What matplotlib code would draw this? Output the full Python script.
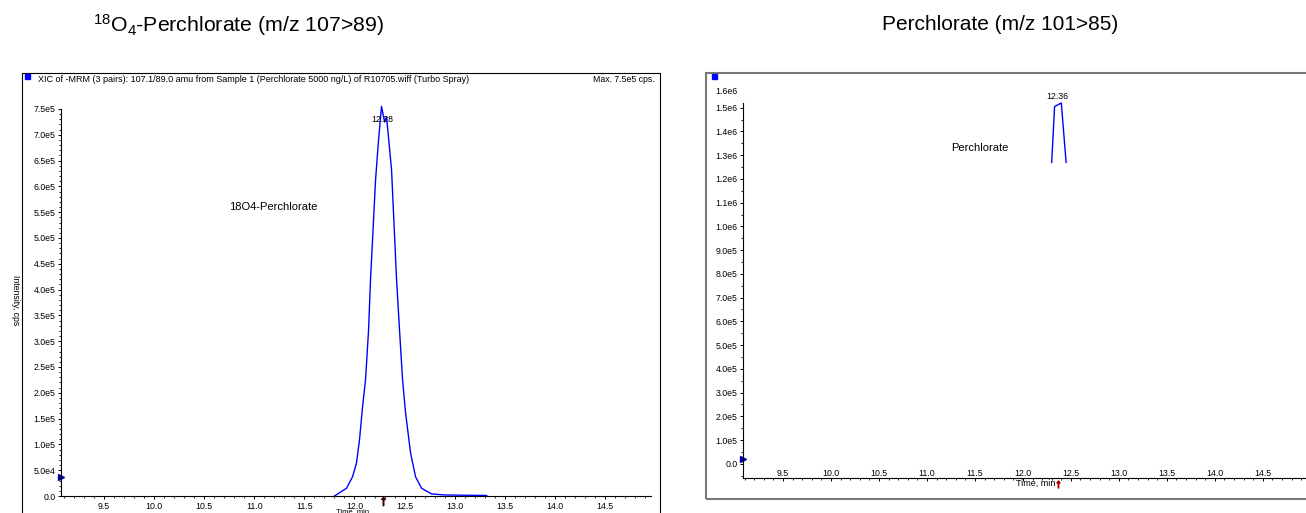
import matplotlib.pyplot as plt
from matplotlib.patches import Rectangle
from matplotlib.ticker import FuncFormatter, MultipleLocator

plt.rcParams['font.family'] = ['Liberation Sans', 'DejaVu Sans']
plt.rcParams['mathtext.fontset'] = 'custom'
plt.rcParams['mathtext.rm'] = 'Liberation Sans'
plt.rcParams['mathtext.it'] = 'Liberation Sans'

# 18O4-perchlorate trace (m/z 107>89)
t_18o4 = [11.80, 11.92, 11.98, 12.02, 12.05, 12.08, 12.11, 12.14, 12.16, 12.21,
          12.24, 12.27, 12.30, 12.32, 12.37, 12.42, 12.45, 12.48, 12.51, 12.56,
          12.61, 12.67, 12.77, 12.90, 13.10, 13.32]
i_18o4 = [0, 1.5e4, 3.7e4, 6.4e4, 1.09e5, 1.72e5, 2.25e5, 3.2e5, 4.19e5, 6.12e5,
          6.9e5, 7.55e5, 7.25e5, 7.35e5, 6.32e5, 4.19e5, 3.2e5, 2.25e5, 1.61e5, 8.3e4,
          3.7e4, 1.5e4, 4e3, 2e3, 1.5e3, 1e3]

# perchlorate trace (m/z 101>85), only the top of the peak shows
t_clo4 = [12.30, 12.33, 12.40, 12.45]
i_clo4 = [1.27e6, 1.505e6, 1.52e6, 1.27e6]

peak_18o4 = 12.28
peak_clo4 = 12.36
yticks_left = [i * 5e4 for i in range(16)]
yticks_right = [i * 1e5 for i in range(16)]
xticks = [9.5, 10.0, 10.5, 11.0, 11.5, 12.0, 12.5, 13.0, 13.5, 14.0, 14.5]


def sci(v, pos=None):
    if v == 0:
        return '0.0'
    e = len(str(int(round(v)))) - 1
    return f'{v / 10**e:.1f}e{e}'


W, H = 1306, 513
fig = plt.figure(figsize=(W / 100, H / 100), dpi=100)


def fx(px):
    return px / W


def fy(py):
    return 1 - py / H


# outer boxes
fig.patches.append(Rectangle((fx(22), fy(530)), fx(638), (530 - 73) / H,
                             transform=fig.transFigure, fill=False,
                             edgecolor='black', lw=0.8))
fig.patches.append(Rectangle((fx(706), fy(499)), fx(620), (499 - 73) / H,
                             transform=fig.transFigure, fill=False,
                             edgecolor='#777777', lw=1.5))
for x0 in (25, 712):
    fig.patches.append(Rectangle((fx(x0), fy(79)), fx(5), 5 / H,
                                 transform=fig.transFigure, color='#0000ff'))

fig.text(fx(238), fy(25), r'$^{18}$O$_4$-Perchlorate (m/z 107>89)',
         ha='center', va='center', fontsize=15.3)
fig.text(fx(1000), fy(25), 'Perchlorate (m/z 101>85)',
         ha='center', va='center', fontsize=15)
fig.text(fx(38), fy(80), 'XIC of -MRM (3 pairs): 107.1/89.0 amu from Sample 1 '
         '(Perchlorate 5000 ng/L) of R10705.wiff (Turbo Spray)',
         ha='left', va='center', fontsize=6.5)
fig.text(fx(655), fy(80), 'Max. 7.5e5 cps.', ha='right', va='center', fontsize=6.3)
fig.text(fx(15), fy(300), 'Intensity, cps', rotation=-90,
         ha='center', va='center', fontsize=6.3)

# left panel
ax1 = fig.add_axes([fx(61), fy(496), fx(590), (496 - 109) / H])
ax1.plot(t_18o4, i_18o4, color='#0000ff', lw=1, clip_on=False)
ax1.set_xlim(9.07, 14.96)
ax1.set_ylim(0, 7.5e5)
ax1.set_yticks(yticks_left)
ax1.set_xticks(xticks)
ax1.yaxis.set_major_formatter(FuncFormatter(sci))
ax1.yaxis.set_minor_locator(MultipleLocator(1e4))
ax1.xaxis.set_minor_locator(MultipleLocator(0.1))
ax1.text(peak_18o4, 7.3e5, f'{peak_18o4:.2f}', ha='center', va='center', fontsize=6.3)
ax1.text(11.19, 5.6e5, '18O4-Perchlorate', ha='center', va='center', fontsize=8)
ax1.plot([9.07], [3.7e4], marker='>', color='#0000aa', ms=4, clip_on=False)
ax1.plot([peak_18o4], [-1.0e4], marker=r'$\uparrow$', color='#400000', ms=6,
         clip_on=False)
ax1.text(11.82, -0.0322, 'Time, min', transform=ax1.get_xaxis_transform(),
         ha='left', va='top', fontsize=5.5)

# right panel
ax2 = fig.add_axes([fx(743), fy(478), fx(563), (478 - 103) / H])
ax2.plot(t_clo4, i_clo4, color='#0000ff', lw=1, clip_on=False)
ax2.set_xlim(9.083, 14.95)
ax2.set_ylim(-6e4, 1.52e6)
ax2.set_yticks(yticks_right)
ax2.set_xticks(xticks)
ax2.yaxis.set_major_formatter(FuncFormatter(sci))
ax2.yaxis.set_minor_locator(MultipleLocator(5e4))
ax2.xaxis.set_minor_locator(MultipleLocator(0.1))
ax2.text(-0.01, 1.03, '1.6e6', transform=ax2.transAxes, ha='right',
         va='center', fontsize=6.3)
ax2.text(peak_clo4, 1.548e6, f'{peak_clo4:.2f}', ha='center', va='center',
         fontsize=6.3)
ax2.text(11.55, 1.33e6, 'Perchlorate', ha='center', va='center', fontsize=8)
ax2.plot([9.083], [2.1e4], marker='>', color='#0000aa', ms=4, clip_on=False)
ax2.text(12.34, -8.3e4, 'Time, min', ha='right', va='center', fontsize=6.5)
ax2.plot([12.37], [-8.5e4], marker=r'$\uparrow$', color='#aa0000', ms=5,
         clip_on=False)

for ax in (ax1, ax2):
    for s in ('top', 'right'):
        ax.spines[s].set_visible(False)
    ax.spines['left'].set_linewidth(0.8)
    ax.spines['bottom'].set_linewidth(0.8)
    ax.tick_params(which='major', length=2.5, width=0.7, labelsize=6.3, pad=1.5)
    ax.tick_params(which='minor', length=1.2, width=0.6)

ax2.tick_params(axis='x', which='major', pad=-9)

plt.savefig('out.png', dpi=100)
